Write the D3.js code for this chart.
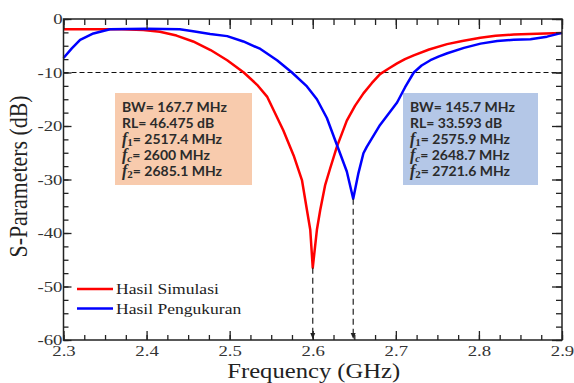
<!DOCTYPE html>
<html><head><meta charset="utf-8">
<script src="https://cdn.jsdelivr.net/npm/d3@7"></script>
<style>body{margin:0;background:#fff}svg{display:block}</style>
</head><body><svg id="c" width="574" height="383"></svg>
<script>
// ---- data ----
const simFreq = [2.30,2.37,2.396,2.416,2.436,2.456,2.477,2.497,2.517,2.533,2.545,2.5645,2.577,2.587,2.593,2.597,2.600,2.605,2.609,2.615,2.621,2.629,2.641,2.651,2.661,2.671,2.681,2.691,2.7015,2.711,2.7215,2.74,2.7617,2.78,2.8018,2.82,2.842,2.87,2.90];
const simDb   = [-1.9,-1.9,-2.05,-2.4,-3.1,-4.2,-5.8,-7.7,-10.0,-12.3,-14.5,-20.8,-25.5,-30.1,-35.7,-39.4,-46.5,-39.4,-35.7,-31.0,-27.9,-23.9,-19.0,-16.2,-13.9,-12.0,-10.3,-9.3,-8.3,-7.5,-6.8,-5.7,-4.7,-4.1,-3.5,-3.15,-2.9,-2.75,-2.6];
const meaFreq = [2.30,2.31,2.32,2.336,2.356,2.40,2.44,2.456,2.4765,2.497,2.5165,2.537,2.557,2.575,2.593,2.605,2.617,2.629,2.641,2.6487,2.655,2.661,2.665,2.681,2.7015,2.711,2.7216,2.731,2.7416,2.752,2.762,2.782,2.802,2.822,2.842,2.862,2.882,2.90];
const meaDb   = [-7.3,-5.5,-3.9,-2.7,-1.9,-1.8,-1.9,-2.3,-2.8,-3.2,-4.2,-5.6,-7.7,-10.0,-12.6,-15.0,-18.5,-23.5,-28.5,-33.6,-28.8,-25.1,-23.9,-19.8,-15.6,-12.8,-10.0,-8.7,-7.7,-7.0,-6.4,-5.4,-4.6,-4.1,-3.9,-3.8,-3.3,-2.6];
const xMajor = [2.3,2.4,2.5,2.6,2.7,2.8,2.9];
const yMajor = [-60,-50,-40,-30,-20,-10,0];
const seriesNames = ["Hasil Simulasi","Hasil Pengukuran"];
const seriesColors = ["#ff0000","#0000ff"];
const threshold = -10;
const resonances = [[2.6,-46.5],[2.6487,-33.6]];
const simBox = [["BW= 167.7 MHz"],["RL= 46.475 dB"],["1","= 2517.4 MHz"],["c","= 2600 MHz"],["2","= 2685.1 MHz"]];
const meaBox = [["BW= 145.7 MHz"],["RL= 33.593 dB"],["1","= 2575.9 MHz"],["c","= 2648.7 MHz"],["2","= 2721.6 MHz"]];

// ---- layout ----
const L=63.5, R=562, T=19, B=340;
const svg = d3.select("#c");
const x = d3.scaleLinear().domain([2.3,2.9]).range([L,R]);
const y = d3.scaleLinear().domain([-60,0]).range([B,T]);
const xMinor = d3.range(0,25).map(i=>+(2.3+i*0.025).toFixed(3));
const yMinor = d3.range(0,25).map(i=>-60+i*2.5);
const serif = "'Liberation Serif','Times New Roman',serif";

function stretch(sel,f){ sel.each(function(){ const w=this.getComputedTextLength(); d3.select(this).attr("textLength",w*f).attr("lengthAdjust","spacingAndGlyphs");}); }

// boxes
function drawBox(x0,y0,w,h,fill,lines){
  svg.append("rect").attr("x",x0).attr("y",y0).attr("width",w).attr("height",h).attr("fill",fill);
  lines.forEach((ln,i)=>{
    const t = svg.append("text").attr("x",x0+7).attr("y",y0+18.5+i*16)
      .attr("font-family","Lato,sans-serif").attr("font-weight","bold").attr("font-size",14).attr("fill","#2b2b2b");
    if(ln.length===1){ t.text(ln[0]); }
    else {
      t.append("tspan").attr("font-family",serif).attr("font-style","italic").attr("font-size",16).text("f");
      t.append("tspan").attr("font-family",serif).attr("font-style",ln[0]==="c"?"italic":"normal").attr("font-size",11).attr("dy",2.5).text(ln[0]);
      t.append("tspan").attr("dy",-2.5).text(ln[1]);
    }
  });
}
drawBox(115,93,137,92,"#f8cbad",simBox);
drawBox(403,93,135,92,"#b4c7e7",meaBox);

// threshold line
svg.append("line").attr("x1",L).attr("x2",R).attr("y1",y(threshold)).attr("y2",y(threshold))
  .attr("stroke","#111").attr("stroke-width",1.2).attr("stroke-dasharray","5,3");

// curves
const line = d3.line().x(d=>x(d[0])).y(d=>y(d[1])).curve(d3.curveLinear);
svg.append("path").datum(simFreq.map((f,i)=>[f,simDb[i]])).attr("d",line).attr("fill","none").attr("stroke",seriesColors[0]).attr("stroke-width",2.5).attr("stroke-linejoin","round");
svg.append("path").datum(meaFreq.map((f,i)=>[f,meaDb[i]])).attr("d",line).attr("fill","none").attr("stroke",seriesColors[1]).attr("stroke-width",2.5).attr("stroke-linejoin","round");

// resonance markers
resonances.forEach(r=>{
  svg.append("line").attr("x1",x(r[0])).attr("x2",x(r[0])).attr("y1",y(r[1])).attr("y2",B-5)
    .attr("stroke","#222").attr("stroke-width",1.2).attr("stroke-dasharray","6,4");
  svg.append("path").attr("d",`M${x(r[0])-2.5},${B-7}L${x(r[0])+2.5},${B-7}L${x(r[0])},${B-1}Z`).attr("fill","#222");
});

// axes
const axG = svg.append("g");
function ax(gen,tr){ const g=axG.append("g").attr("transform",tr).call(gen); g.select(".domain").remove(); g.selectAll("line").attr("stroke","#222").attr("stroke-width",1.3); return g; }
ax(d3.axisBottom(x).tickValues(xMinor).tickSize(-5).tickFormat(""),`translate(0,${B})`);
const xa = ax(d3.axisBottom(x).tickValues(xMajor).tickSize(-9).tickPadding(5).tickFormat(d3.format(".1f")),`translate(0,${B})`);
ax(d3.axisTop(x).tickValues(xMinor).tickSize(-6).tickFormat(""),`translate(0,${T})`);
ax(d3.axisTop(x).tickValues(xMajor).tickSize(-10).tickFormat(""),`translate(0,${T})`);
ax(d3.axisLeft(y).tickValues(yMinor).tickSize(-5).tickFormat(""),`translate(${L},0)`);
const ya = ax(d3.axisLeft(y).tickValues(yMajor).tickSize(-8).tickPadding(1).tickFormat(d=>String(d)),`translate(${L},0)`);
ax(d3.axisRight(y).tickValues(yMinor).tickSize(-6).tickFormat(""),`translate(${R},0)`);
ax(d3.axisRight(y).tickValues(yMajor).tickSize(-10).tickFormat(""),`translate(${R},0)`);
[xa,ya].forEach(g=>g.selectAll("text").attr("font-family",serif).attr("font-size",15).attr("fill","#333"));
stretch(xa.selectAll("text"),1.25); stretch(ya.selectAll("text"),1.25);
// frame
svg.append("rect").attr("x",L).attr("y",T).attr("width",R-L).attr("height",B-T).attr("fill","none").attr("stroke","#222").attr("stroke-width",1.5);

// axis titles
const xt = svg.append("text").attr("x",(L+R)/2+1).attr("y",378).attr("text-anchor","middle")
  .attr("font-family",serif).attr("font-size",20).attr("fill","#222").text("Frequency (GHz)");
xt.attr("textLength",173).attr("lengthAdjust","spacingAndGlyphs");
const yt = svg.append("text").attr("transform",`translate(26.5,${(T+B)/2-3}) scale(1.2,1) rotate(-90)`).attr("text-anchor","middle")
  .attr("font-family",serif).attr("font-size",21).attr("fill","#222").text("S-Parameters (dB)");
yt.attr("textLength",162).attr("lengthAdjust","spacingAndGlyphs");

// legend
const lg = svg.append("g");
seriesNames.forEach((n,i)=>{
  const yy = 289+i*19.5;
  lg.append("line").attr("x1",77).attr("x2",113).attr("y1",yy).attr("y2",yy).attr("stroke",seriesColors[i]).attr("stroke-width",2.5);
  const t = lg.append("text").attr("x",116).attr("y",yy+5).attr("font-family",serif).attr("font-size",15).attr("fill","#222").text(n);
  stretch(t,1.17);
});
</script></body></html>
